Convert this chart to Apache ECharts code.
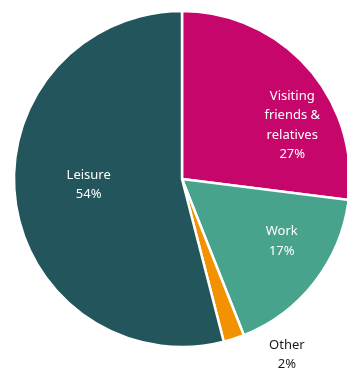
<!DOCTYPE html>
<html>
<head>
<meta charset="utf-8">
<script src="https://cdn.jsdelivr.net/npm/echarts@6/dist/echarts.min.js"></script>
<style>
  html, body { margin: 0; padding: 0; background: #fff; }
  #chart { width: 347px; height: 368px; }
</style>
</head>
<body>
<div id="chart"></div>
<script>
const categories = ['Visiting\nfriends &\nrelatives', 'Work', 'Other', 'Leisure'];
const shares = [27, 17, 2, 54];
const colors = ['#c7066b', '#47a38b', '#f39200', '#22555c'];

// label nudges from the default inside spot
const labelShift = [[45, 4], [31, 9], [78, 93], [-7, -5]];

let drawCharts = echarts.init(document.getElementById('chart'));
let option = {
  animation: false,
  series: [
    {
      type: 'pie',
      center: [182, 179],
      radius: [0, 168],
      startAngle: 90,
      clockwise: true,
      avoidLabelOverlap: false,
      itemStyle: {
        borderColor: '#fff',
        borderWidth: 2.5
      },
      label: {
        show: true,
        position: 'inside',
        formatter: '{b}\n{c}%',
        color: '#fff',
        fontFamily: 'Noto Sans',
        fontSize: 13,
        lineHeight: 19.5,
        align: 'center'
      },
      labelLine: { show: false },
      labelLayout: function (p) {
        return { dx: labelShift[p.dataIndex][0], dy: labelShift[p.dataIndex][1] };
      },
      data: categories.map(function (c, i) {
        let item = { name: c, value: shares[i], itemStyle: { color: colors[i] } };
        if (c === 'Other') item.label = { color: '#1a1a1a' };
        return item;
      })
    }
  ]
};
drawCharts.setOption(option);
</script>
</body>
</html>
